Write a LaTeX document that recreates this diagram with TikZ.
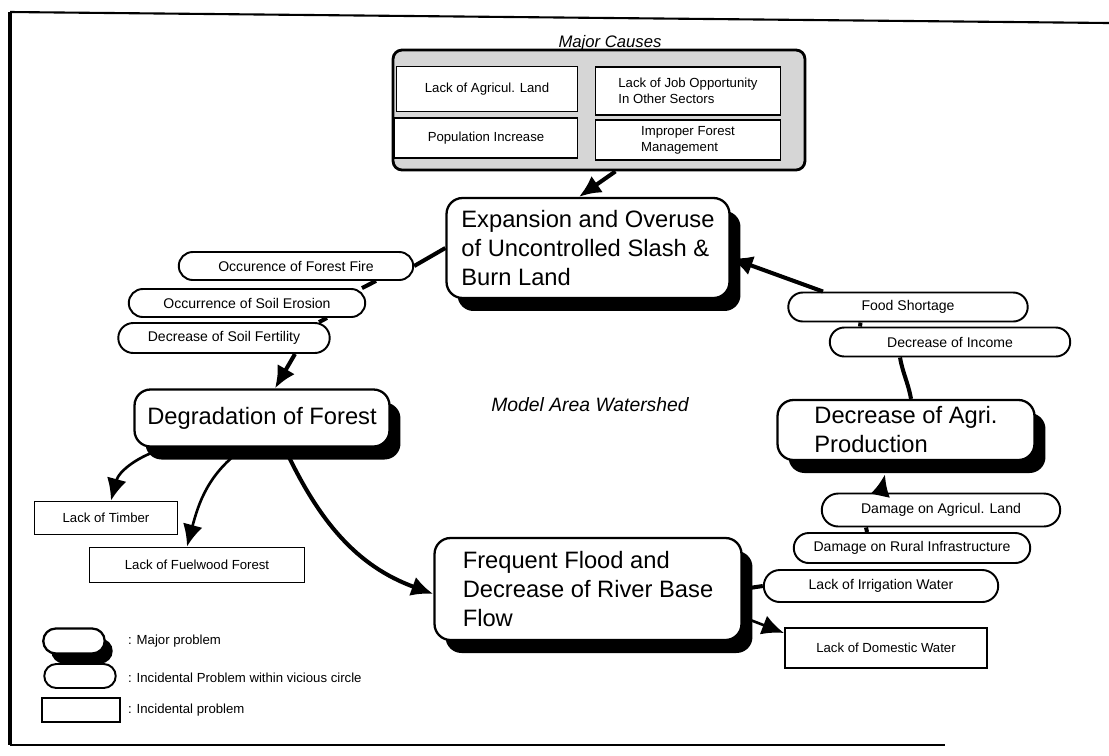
\documentclass[tikz,border=0pt]{standalone}
\usepackage{fontspec}
\setmainfont{Liberation Sans}
\usetikzlibrary{arrows.meta,positioning,shapes.misc,shadows}
\tikzstyle{major} = [draw,line width=1.3pt,rounded corners=0.32cm,fill=white,align=left,font=\fontsize{13.5}{16.5}\selectfont,drop shadow={shadow xshift=0.22cm,shadow yshift=-0.26cm,fill=black,opacity=1}]
\tikzstyle{majorlegend} = [draw,line width=1.3pt,rounded rectangle,fill=white,inner sep=1pt,drop shadow={shadow xshift=0.16cm,shadow yshift=-0.2cm,fill=black,opacity=1}]
\tikzstyle{vicious} = [draw,line width=1.1pt,rounded rectangle,fill=white,font=\fontsize{8}{9.5}\selectfont,inner sep=1pt]
\tikzstyle{incid} = [draw,line width=1.1pt,rectangle,fill=white,font=\fontsize{7.5}{9}\selectfont,align=left]
\tikzstyle{causebox} = [draw,line width=1.6pt,rounded corners=0.18cm,fill=black!16]
\tikzstyle{link} = [line width=2.3pt]
\tikzstyle{thinlink} = [line width=1.5pt]
\tikzstyle{legtext} = [anchor=west,font=\fontsize{7.5}{9}\selectfont]
\tikzset{>={Latex[length=4.4mm,width=4mm]}}

\begin{document}
\begin{tikzpicture}[x=0.02cm,y=-0.02cm]
    \useasboundingbox (0,0) rectangle (1109,755);
    % frame
    \draw [line width=1.2pt] (1109,23) -- (10,12);
    \draw [line width=2pt] (10,12) -- (10,745);
    \draw [line width=1.2pt] (10,745) -- (945,745);

    % major causes
    \node [causebox,minimum width=8.24cm,minimum height=2.4cm] (causes) at (599,110) {};
    \node [font=\fontsize{9.5}{11}\selectfont\itshape] (causestitle) at (610,43) {Major Causes};
    \node [incid,minimum width=3.62cm,minimum height=0.9cm] (agland) at (487,89) {Lack of Agricul. Land};
    \node [incid,minimum width=3.66cm,minimum height=0.8cm] (popul) at (486,138) {Population Increase};
    \node [incid,minimum width=3.7cm,minimum height=0.96cm] (jobs) at (688,91) {Lack of Job Opportunity\\In Other Sectors};
    \node [incid,minimum width=3.7cm,minimum height=0.8cm] (mgmt) at (688,140) {Improper Forest\\Management};

    % major problems
    \node [major,minimum width=5.66cm,minimum height=2cm] (exp) at (588,248) {Expansion and Overuse\\of Uncontrolled Slash \&\\Burn Land};
    \node [major,minimum width=5.1cm,minimum height=1.14cm] (deg) at (262,418) {Degradation of Forest};
    \node [major,minimum width=6.14cm,minimum height=2.04cm] (flood) at (588,589) {Frequent Flood and\\Decrease of River Base\\Flow};
    \node [major,minimum width=5.14cm,minimum height=1.2cm] (agri) at (906,430) {Decrease of Agri.\\Production};

    \node [font=\fontsize{11}{13}\selectfont\itshape] (area) at (590,405) {Model Area Watershed};

    % vicious circle items
    \node [vicious,minimum width=4.76cm,minimum height=0.56cm] (fire) at (296,266) {Occurence of Forest Fire};
    \node [vicious,minimum width=4.8cm,minimum height=0.56cm] (erosion) at (247,303) {Occurrence of Soil Erosion};
    \node [vicious,minimum width=4.3cm,minimum height=0.6cm] (fertility) at (224,338) {Decrease of Soil Fertility};
    \node [vicious,minimum width=4.86cm,minimum height=0.58cm] (food) at (908,307) {Food Shortage};
    \node [vicious,minimum width=4.88cm,minimum height=0.58cm] (income) at (950,342) {Decrease of Income};
    \node [vicious,minimum width=4.84cm,minimum height=0.66cm] (agricul) at (941,510) {Damage on Agricul. Land};
    \node [vicious,minimum width=4.8cm,minimum height=0.6cm] (rural) at (912,548) {Damage on Rural Infrastructure};
    \node [vicious,minimum width=4.76cm,minimum height=0.64cm] (irrig) at (881,586) {Lack of Irrigation Water};

    % incidental problems
    \node [incid,minimum width=2.86cm,minimum height=0.66cm] (timber) at (106,518) {Lack of Timber};
    \node [incid,minimum width=4.3cm,minimum height=0.7cm] (fuel) at (197,565) {Lack of Fuelwood Forest};
    \node [incid,minimum width=4.04cm,minimum height=0.8cm] (domestic) at (886,648) {Lack of Domestic Water};

    % connectors
    \draw [link,->] (causes.285) -- (exp.100);
    \draw [link] (exp.west) -- (fire.east);
    \draw [link] ([xshift=1.6cm]fire.south) -- ([xshift=2.3cm]erosion.north);
    \draw [link] ([xshift=1.6cm]erosion.south) -- ([xshift=1.9cm]fertility.north);
    \draw [link,->] ([xshift=1.42cm]fertility.south) -- ([xshift=0.26cm]deg.north);
    \draw [thinlink,->] ([xshift=-1.9cm]deg.south) to[out=195,in=75] ([xshift=0.1cm]timber.north);
    \draw [thinlink,->] ([xshift=-0.35cm]deg.south) to[out=215,in=75] ([xshift=-0.2cm]fuel.north);
    \draw [link,->] ([xshift=0.45cm]deg.south) to[out=-65,in=160] ([yshift=-0.1cm]flood.west);
    \draw [link] (flood.east) -- (irrig.west);
    \draw [thinlink,->] ([yshift=-0.56cm]flood.east) -- ([yshift=0.3cm]domestic.west);
    \draw [link] ([xshift=-0.9cm]rural.north) -- ([xshift=-1.5cm]agricul.south);
    \draw [link,->] ([xshift=-1.2cm]agricul.north) -- ([xshift=-0.42cm,yshift=-0.26cm]agri.south);
    \draw [link] ([xshift=-1cm]income.south) to[out=-80,in=100] ([xshift=0.1cm]agri.north);
    \draw [link] ([xshift=-0.95cm]food.south) -- ([xshift=-1.8cm]income.north);
    \draw [link,->] ([xshift=-1.7cm]food.north) -- ([yshift=-0.2cm]exp.east);

    % legend
    \node [majorlegend,minimum width=1.3cm,minimum height=0.5cm] (lgmajor) at (74,641) {};
    \node [vicious,minimum width=1.5cm,minimum height=0.48cm] (lgvicious) at (80,676) {};
    \node [incid,minimum width=1.56cm,minimum height=0.48cm] (lgincid) at (81,710) {};
    \node [legtext] (lgmajortext) at (122,641) {: Major problem};
    \node [legtext] (lgvicioustext) at (122,678) {: Incidental Problem within vicious circle};
    \node [legtext] (lgincidtext) at (122,710) {: Incidental problem};
\end{tikzpicture}
\end{document}
